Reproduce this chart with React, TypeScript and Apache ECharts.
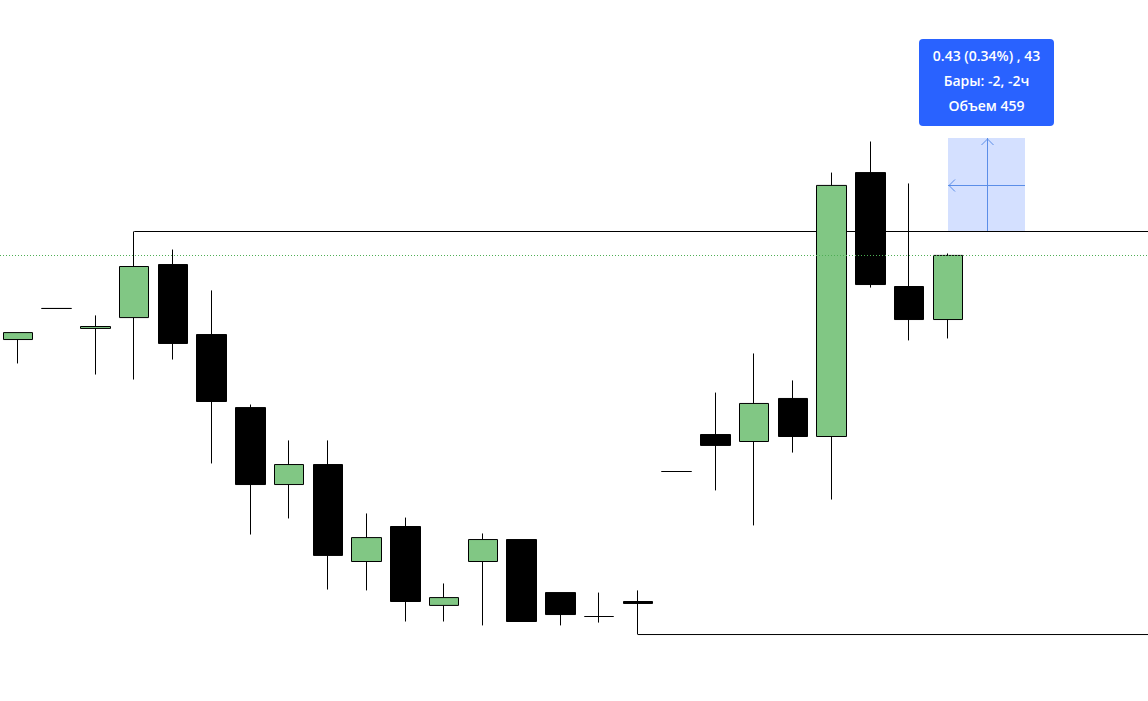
import React, { useEffect, useRef } from "react";
import * as echarts from "echarts";

// OHLC per bar (price units)
const opens = [
  126.003, 126.146, 126.054, 126.104, 126.348, 126.026, 125.69, 125.336, 125.428,
  124.982, 125.143, 124.78, 124.982, 125.083, 124.839, 124.729, 124.798, 125.396,
  125.566, 125.534, 125.732, 125.557, 126.771, 126.247, 126.095,
];
const closes = [
  126.035, 126.146, 126.063, 126.339, 125.985, 125.718, 125.336, 125.428, 125.01,
  125.092, 124.798, 124.816, 125.083, 124.706, 124.738, 124.729, 124.789, 125.396,
  125.516, 125.709, 125.557, 126.712, 126.256, 126.095, 126.39,
];
const lows = [
  125.893, 126.146, 125.842, 125.819, 125.911, 125.433, 125.106, 125.18, 124.853,
  124.849, 124.706, 124.706, 124.688, 124.706, 124.688, 124.701, 124.646, 125.396,
  125.309, 125.148, 125.483, 125.267, 126.242, 125.999, 126.008,
];
const highs = [
  126.035, 126.146, 126.114, 126.5, 126.417, 126.229, 125.704, 125.539, 125.539,
  125.203, 125.184, 124.881, 125.111, 125.083, 124.839, 124.839, 124.849, 125.396,
  125.759, 125.939, 125.815, 126.771, 126.914, 126.721, 126.399,
];

// Horizontal levels drawn from a bar to the right edge
const levelBars = [3, 16];
const levelPrices = [126.5, 124.646];

// Measurement tool (from bar -> to bar, base price, change)
const measureFromBar = 24;
const measureToBar = 26;
const measureBase = 126.5;
const measureChange = 0.43;
const measurePercent = 0.34;
const measureTicks = 43;
const measureBars = -2;
const measureHours = "-2ч";
const measureVolume = 459;

const priceMin = 124.3403;
const priceMax = 127.5649;
const barMin = -0.4645;
const barMax = 29.1613;

const GREEN = "#81c784";
const BLUE = "#2962ff";

export default function App() {
  const ref = useRef<HTMLDivElement>(null);

  useEffect(() => {
    if (!ref.current) return;
    const chart = echarts.init(ref.current, null, { renderer: "svg" });

    const candleData = opens.map((o, i) => [i, o, closes[i], lows[i], highs[i]]);
    const lastClose = closes[closes.length - 1];

    const levelSeries = levelBars.map((b, k) => ({
      type: "line",
      data: [
        [b, levelPrices[k]],
        [barMax, levelPrices[k]],
      ],
      symbol: "none",
      silent: true,
      lineStyle: { color: "#000", width: 1 },
      z: 1,
    }));

    const lines = [
      `${measureChange.toFixed(2)} (${measurePercent.toFixed(2)}%) , ${measureTicks}`,
      `Бары: ${measureBars}, ${measureHours}`,
      `Объем ${measureVolume}`,
    ];

    chart.setOption({
      animation: false,
      grid: { left: 0, right: 0, top: 0, bottom: 0 },
      xAxis: { type: "value", min: barMin, max: barMax, show: false },
      yAxis: { type: "value", min: priceMin, max: priceMax, show: false, scale: true },
      series: [
        {
          type: "candlestick",
          data: candleData,
          barWidth: 30,
          z: 3,
          itemStyle: {
            color: GREEN,
            color0: "#000",
            borderColor: "#000",
            borderColor0: "#000",
            borderColorDoji: "#000",
            borderWidth: 1,
          },
          markLine: {
            silent: true,
            symbol: "none",
            label: { show: false },
            lineStyle: { color: "#4fae55", type: [1, 2], width: 1, opacity: 1 },
            data: [{ yAxis: lastClose }],
          },
        },
        ...levelSeries,
        {
          type: "custom",
          silent: true,
          clip: false,
          z: 5,
          data: [[measureFromBar, measureToBar, measureBase, measureBase + measureChange]],
          encode: { x: [0, 1], y: [2, 3] },
          renderItem: (params: any, api: any) => {
            const p0 = api.coord([api.value(0), api.value(2)]);
            const p1 = api.coord([api.value(1), api.value(3)]);
            const x0 = Math.round(p0[0]);
            const x1 = Math.round(p1[0]);
            const yb = Math.floor(p0[1]);
            const yt = Math.round(p1[1]);
            const cx = Math.round((x0 + x1) / 2) + 0.5;
            const cy = Math.round((yb + yt) / 2) + 0.5;
            const lineColor = "#5b8ee8";
            const boxW = 135;
            const boxH = 87;
            const boxX = Math.round((x0 + x1) / 2 - boxW / 2);
            const boxY = yt - 12 - boxH;
            return {
              type: "group",
              children: [
                {
                  type: "rect",
                  shape: { x: x0, y: yt, width: x1 - x0, height: yb - yt },
                  style: { fill: "rgba(41,98,255,0.2)" },
                },
                {
                  type: "line",
                  shape: { x1: cx, y1: yt, x2: cx, y2: yb },
                  style: { stroke: lineColor, lineWidth: 1 },
                },
                {
                  type: "line",
                  shape: { x1: x0, y1: cy, x2: x1, y2: cy },
                  style: { stroke: lineColor, lineWidth: 1 },
                },
                {
                  type: "polyline",
                  shape: { points: [[cx - 6, yt + 7], [cx, yt + 1], [cx + 6, yt + 7]] },
                  style: { stroke: lineColor, lineWidth: 1, fill: "none" },
                },
                {
                  type: "polyline",
                  shape: { points: [[x0 + 7, cy - 6], [x0 + 1, cy], [x0 + 7, cy + 6]] },
                  style: { stroke: lineColor, lineWidth: 1, fill: "none" },
                },
                {
                  type: "rect",
                  shape: { x: boxX, y: boxY, width: boxW, height: boxH, r: 4 },
                  style: { fill: BLUE },
                },
                ...lines.map((t, k) => ({
                  type: "text",
                  x: boxX + boxW / 2,
                  y: boxY + 16 + k * 25,
                  style: {
                    text: t,
                    fill: "#fff",
                    font: "600 14px 'Open Sans', sans-serif",
                    align: "center",
                    verticalAlign: "middle",
                  },
                })),
              ],
            };
          },
        },
      ],
    });

    return () => chart.dispose();
  }, []);

  return (
    <div
      ref={ref}
      style={{ position: "absolute", left: 0, top: 0, width: 1148, height: 701, background: "#fff" }}
    />
  );
}
